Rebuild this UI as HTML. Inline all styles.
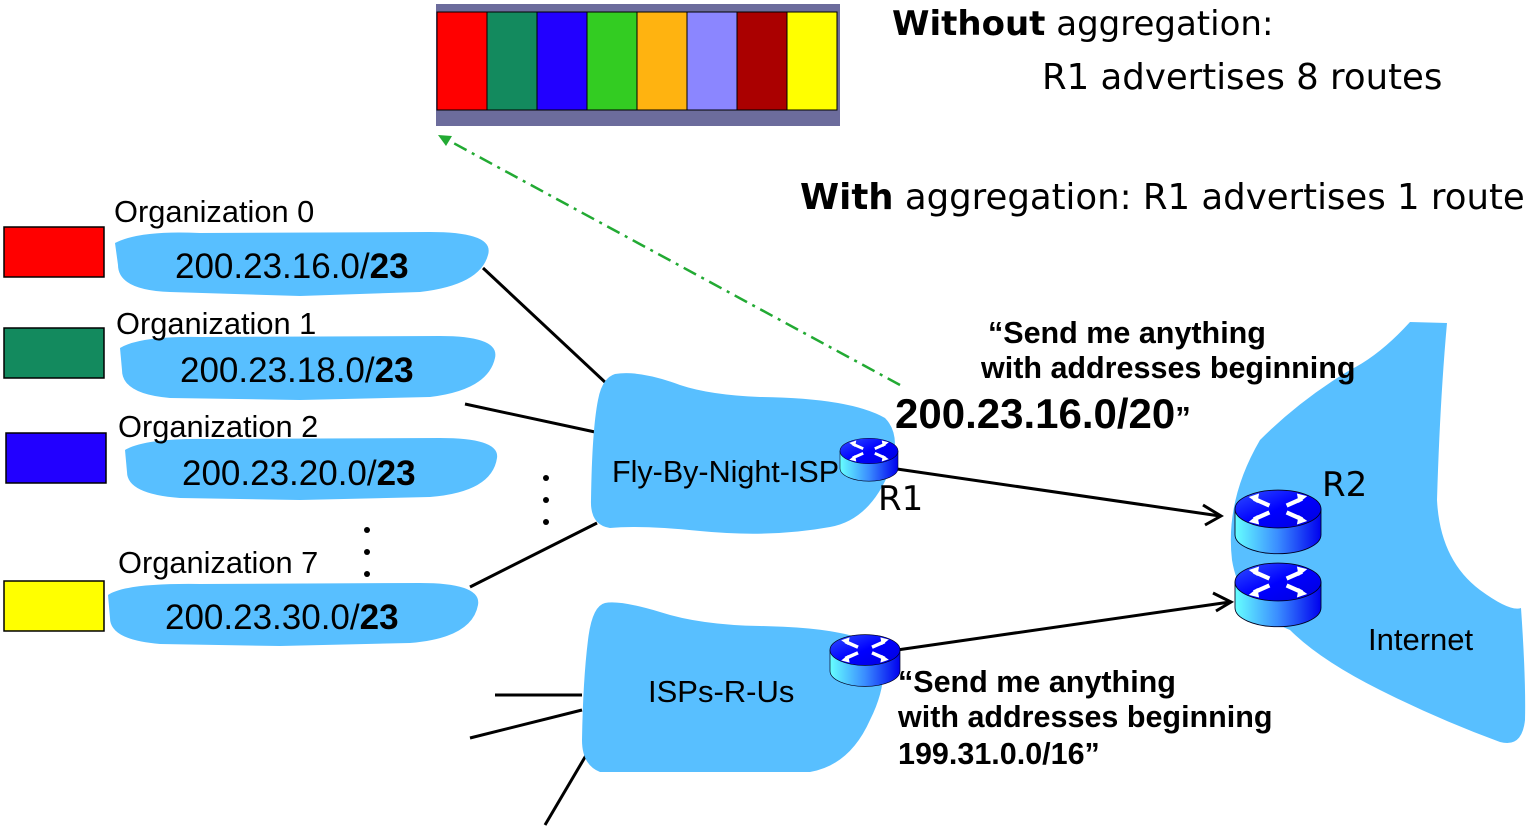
<!DOCTYPE html>
<html><head><meta charset="utf-8"><style>
html,body{margin:0;padding:0;background:#fff;}
svg{display:block;font-family:"Liberation Sans",Arial,sans-serif;}
</style></head><body>
<svg width="1538" height="830" viewBox="0 0 1538 830" xmlns="http://www.w3.org/2000/svg">
<defs>
<linearGradient id="side" x1="0" x2="1" y1="0" y2="0">
<stop offset="0" stop-color="#66ffff"/><stop offset="0.5" stop-color="#3a8cff"/><stop offset="1" stop-color="#0000ee"/>
</linearGradient>
<linearGradient id="top" x1="0" x2="1" y1="0" y2="1">
<stop offset="0" stop-color="#3050ff"/><stop offset="0.5" stop-color="#0000ff"/><stop offset="1" stop-color="#0000dd"/>
</linearGradient>
<g id="rt">
<path d="M-50,0 L-50,30 A50,22 0 0 0 50,30 L50,0 Z" fill="url(#side)" stroke="#002" stroke-width="1"/>
<ellipse cx="0" cy="0" rx="50" ry="22" fill="url(#top)" stroke="#002" stroke-width="1"/>
<g stroke="#fff" stroke-width="5" fill="#fff">
<line x1="-10" y1="-4" x2="-28" y2="-12"/><polygon points="-34,-14 -22,-18 -24,-7" stroke="none"/>
<line x1="10" y1="-4" x2="28" y2="-12"/><polygon points="34,-15 22,-18 24,-7" stroke="none"/>
<line x1="-10" y1="4" x2="-28" y2="12"/><polygon points="-34,15 -22,18 -24,7" stroke="none"/>
<line x1="10" y1="4" x2="28" y2="12"/><polygon points="34,14 22,18 24,7" stroke="none"/>
</g>
</g>
</defs>

<rect x="436" y="4" width="404" height="122" fill="#6c6c9c"/>
<rect x="437" y="12" width="50" height="98" fill="#ff0000" stroke="#000"/>
<rect x="487" y="12" width="50" height="98" fill="#138a5e" stroke="#000"/>
<rect x="537" y="12" width="50" height="98" fill="#2200ff" stroke="#000"/>
<rect x="587" y="12" width="50" height="98" fill="#33cc22" stroke="#000"/>
<rect x="637" y="12" width="50" height="98" fill="#ffb310" stroke="#000"/>
<rect x="687" y="12" width="50" height="98" fill="#8b86ff" stroke="#000"/>
<rect x="737" y="12" width="50" height="98" fill="#aa0000" stroke="#000"/>
<rect x="787" y="12" width="50" height="98" fill="#ffff00" stroke="#000"/>

<text x="892" y="35" font-size="34" font-family="DejaVu Sans, sans-serif"><tspan font-weight="bold">Without</tspan> aggregation:</text>
<text x="1042" y="89" font-size="35.5" font-family="DejaVu Sans, sans-serif">R1 advertises 8 routes</text>
<text x="800" y="209" font-size="35.5" font-family="DejaVu Sans, sans-serif"><tspan font-weight="bold">With</tspan> aggregation: R1  advertises 1 route</text>

<line x1="900" y1="385" x2="446" y2="139" stroke="#22aa33" stroke-width="2.5" stroke-dasharray="14,6,3,6"/>
<polygon points="438,135 452,136 446,146" fill="#22aa33"/>

<g stroke="#000" stroke-width="3">
<line x1="483" y1="268" x2="607" y2="384"/>
<line x1="465" y1="404" x2="595" y2="432"/>
<line x1="470" y1="587" x2="597" y2="523"/>
<line x1="495" y1="695" x2="582" y2="695"/>
<line x1="470" y1="738" x2="582" y2="710"/>
<line x1="545" y1="825" x2="588" y2="752"/>
</g>
<g fill="#000">
<circle cx="546" cy="478" r="3"/><circle cx="546" cy="500" r="3"/><circle cx="546" cy="522" r="3"/>
<circle cx="367" cy="530" r="3"/><circle cx="367" cy="552" r="3"/><circle cx="367" cy="574" r="3"/>
</g>

<rect x="4" y="227" width="100" height="50" fill="#ff0000" stroke="#000" stroke-width="1.5"/>
<rect x="4" y="328" width="100" height="50" fill="#138a5e" stroke="#000" stroke-width="1.5"/>
<rect x="6" y="433" width="100" height="50" fill="#2200ff" stroke="#000" stroke-width="1.5"/>
<rect x="4" y="581" width="100" height="50" fill="#ffff00" stroke="#000" stroke-width="1.5"/>

<g fill="#58bfff">
<path d="M115,243 Q140,230 200,233 L430,232 Q495,232 488,255 Q480,285 420,292 L300,296 L170,292 Q118,290 118,265 Z"/>
<path d="M120,348 Q140,336 200,337 L440,336 Q500,336 495,358 Q488,390 430,397 L300,400 L170,398 Q122,394 122,370 Z"/>
<path d="M125,450 Q145,438 210,439 L440,438 Q500,438 497,458 Q492,492 430,497 L300,500 L180,498 Q127,494 127,472 Z"/>
<path d="M108,595 Q125,583 200,584 L420,583 Q482,583 478,605 Q472,638 410,643 L280,646 L160,644 Q110,640 110,618 Z"/>
</g>
<g font-size="30.8">
<text x="114" y="222">Organization 0</text>
<text x="116" y="334">Organization 1</text>
<text x="118" y="437">Organization 2</text>
<text x="118" y="573">Organization 7</text>
</g>
<g font-size="35">
<text x="175" y="278">200.23.16.0/<tspan font-weight="bold">23</tspan></text>
<text x="180" y="382">200.23.18.0/<tspan font-weight="bold">23</tspan></text>
<text x="182" y="485">200.23.20.0/<tspan font-weight="bold">23</tspan></text>
<text x="165" y="629">200.23.30.0/<tspan font-weight="bold">23</tspan></text>
</g>

<path fill="#58bfff" d="M615,374 Q640,370 680,385 Q710,395 760,397 Q850,398 885,418 Q902,435 890,470 Q870,520 830,527 Q770,538 700,531 Q640,525 610,528 Q590,525 591,500 Q592,430 598,400 Q602,378 615,374 Z"/>
<path fill="#58bfff" d="M605,603 Q620,600 660,612 Q700,625 760,626 Q860,628 880,650 Q890,680 870,720 Q850,765 810,772 L600,772 Q582,765 582,740 Q583,680 588,640 Q592,606 605,603 Z"/>
<path fill="#58bfff" d="M1410,322 L1447,323 Q1440,400 1437,500 Q1440,560 1480,590 Q1510,612 1521,608 Q1526,680 1525,720 Q1522,748 1500,742 Q1440,720 1380,690 Q1320,660 1290,630 Q1240,610 1232,560 Q1225,500 1260,440 Q1300,400 1350,370 Q1380,355 1410,322 Z"/>
<text x="612" y="482" font-size="30.5">Fly-By-Night-ISP</text>
<text x="648" y="702" font-size="31">ISPs-R-Us</text>
<text x="1368" y="650" font-size="31">Internet</text>

<g stroke="#000" stroke-width="3" fill="none">
<line x1="897" y1="469" x2="1220" y2="516"/>
<polyline points="1203,505 1221,516 1205,525"/>
<line x1="897" y1="650" x2="1230" y2="602"/>
<polyline points="1213,593 1231,602 1216,611"/>
</g>

<use href="#rt" transform="translate(869,451) scale(0.58)"/>
<use href="#rt" transform="translate(865,650) scale(0.7)"/>
<use href="#rt" transform="translate(1278,509) scale(0.86)"/>
<use href="#rt" transform="translate(1278,582) scale(0.86)"/>

<text x="878" y="510" font-size="34" font-family="DejaVu Sans, sans-serif">R1</text>
<text x="1322" y="496" font-size="34" font-family="DejaVu Sans, sans-serif">R2</text>

<g font-weight="bold" font-size="30.5">
<text x="988" y="343">“Send me anything</text>
<text x="981" y="378">with addresses beginning</text>
<text x="895" y="428" font-size="42">200.23.16.0/20<tspan font-size="31">”</tspan></text>
<text x="898" y="692">“Send me anything</text>
<text x="898" y="727">with addresses beginning</text>
<text x="898" y="764">199.31.0.0/16”</text>
</g>
</svg>
</body></html>
